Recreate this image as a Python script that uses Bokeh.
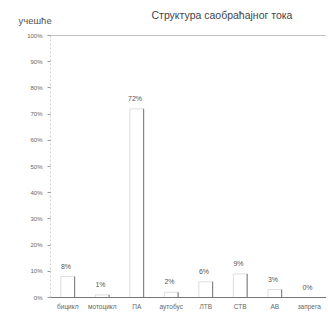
from bokeh.plotting import figure
from bokeh.models import ColumnDataSource, NumeralTickFormatter, FixedTicker, Span, Title
from bokeh.transform import dodge
from bokeh.core.properties import value
from bokeh.embed import file_html
from bokeh.resources import INLINE

categories = ["бицикл", "мотоцикл", "ПА", "аутобус", "ЛТВ", "СТВ", "АВ", "запрега"]
shares = [0.08, 0.01, 0.72, 0.02, 0.06, 0.09, 0.03, 0.00]
value_labels = ["8%", "1%", "72%", "2%", "6%", "9%", "3%", "0%"]
y_ticks = [0, 0.1, 0.2, 0.3, 0.4, 0.5, 0.6, 0.7, 0.8, 0.9, 1.0]

src = ColumnDataSource(dict(cat=categories, val=shares, lab=value_labels))

p = figure(x_range=categories, y_range=(0, 1.0), width=326, height=315,
           output_backend="svg", toolbar_location=None,
           min_border_left=50, min_border_top=35, min_border_right=0, min_border_bottom=18)
p.outline_line_color = None
p.background_fill_color = "white"
p.xgrid.visible = False
p.ygrid.visible = False

p.vbar(x="cat", top="val", width=0.4, source=src, fill_color="white",
       line_color="#dddddd", line_width=1)
p.segment(x0=dodge("cat", 0.2, range=p.x_range), y0=0,
          x1=dodge("cat", 0.2, range=p.x_range), y1="val", source=src,
          line_color="#777777", line_width=1)
p.text(x=dodge("cat", -0.05, range=p.x_range), y="val", text="lab", source=src,
       text_align="center", text_baseline="bottom", y_offset=-7,
       text_font=value("Liberation Sans"),
       text_font_size="7px", text_color="#555555")

p.add_layout(Span(location=1.0, dimension="width", line_color="#888888", line_width=1))

p.yaxis.ticker = FixedTicker(ticks=y_ticks)
p.yaxis.formatter = NumeralTickFormatter(format="0%")
p.yaxis.axis_line_color = "#cccccc"
p.yaxis.axis_line_dash = "2 2"
p.yaxis.major_tick_line_color = "#999999"
p.yaxis.major_tick_in = 0
p.yaxis.major_tick_out = 3
p.yaxis.minor_tick_line_color = None
p.yaxis.major_label_text_font_size = "6px"
p.yaxis.major_label_text_color = "#666666"
p.yaxis.major_label_standoff = 5

p.xaxis.axis_line_color = "#777777"
p.xaxis.major_tick_line_color = None
p.xaxis.major_tick_in = 0
p.xaxis.major_tick_out = 0
p.xaxis.major_label_text_font_size = "6.5px"
p.xaxis.major_label_text_color = "#666666"
p.xaxis.major_label_standoff = 5

for ax in (p.xaxis, p.yaxis):
    ax.major_label_text_font = "Liberation Sans"

p.title = Title(text="Структура саобраћајног тока", align="left",
                text_font="Liberation Sans", text_font_size="10.5px",
                text_color="#444444", text_font_style="normal", offset=101,
                standoff=-36)
p.add_layout(Title(text="учешће", align="left",
                   text_font="Liberation Sans", text_font_size="9.5px",
                   text_color="#555555", text_font_style="normal", offset=-32,
                   standoff=20), "above")

open("out.html", "w").write(file_html(p, INLINE))
